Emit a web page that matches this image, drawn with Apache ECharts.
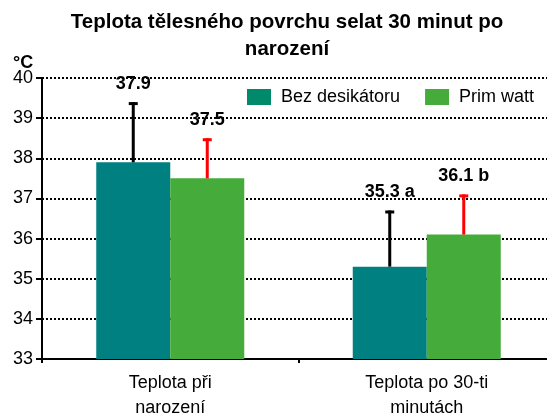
<!DOCTYPE html>
<html>
<head>
<meta charset="utf-8">
<script src="https://cdn.jsdelivr.net/npm/echarts@6/dist/echarts.min.js"></script>
<style>html,body{margin:0;padding:0;background:#fff}#c{width:547px;height:415px}</style>
</head>
<body>
<div id="c"></div>
<script>
const categories = ['Teplota při\nnarození', 'Teplota po 30-ti\nminutách'];
const seriesNames = ['Bez desikátoru', 'Prim watt'];
const bezValues = [37.9, 35.3];
const primValues = [37.5, 36.1];
const bezErrors = [1.5, 1.4];
const primErrors = [1.0, 1.0];
const bezLabels = ['37.9', '35.3 a'];
const primLabels = ['37.5', '36.1 b'];
const yMin = 33, yMax = 40, yStep = 1;
const titleText = 'Teplota tělesného povrchu selat 30 minut po\nnarození';
const unitText = '°C';

const FONT = '"Liberation Sans", Arial, sans-serif';
const BAR_W = 74;
const TEAL = '#008080', GREEN = '#45AB3A';

function errSeries(values, errors, labels, color, side) {
  return {
    type: 'custom',
    z: 5,
    silent: true,
    clip: false,
    data: values.map((v, i) => [i, v, v + errors[i]]),
    encode: { x: 0, y: [1, 2] },
    renderItem: function (params, api) {
      const i = api.value(0);
      const base = api.coord([i, api.value(1)]);
      const top = api.coord([i, api.value(2)]);
      const x = base[0] + side * BAR_W / 2;
      return {
        type: 'group',
        children: [
          { type: 'line', shape: { x1: x, y1: base[1], x2: x, y2: top[1] }, style: { stroke: color, lineWidth: 3 } },
          { type: 'line', shape: { x1: x - 4.5, y1: top[1] + 1.5, x2: x + 4.5, y2: top[1] + 1.5 }, style: { stroke: color, lineWidth: 3 } },
          { type: 'text', x: x, y: top[1] - 9, style: { text: labels[params.dataIndex], font: 'bold 18px ' + FONT, fill: '#000', align: 'center', verticalAlign: 'bottom' } }
        ]
      };
    }
  };
}

const chart = echarts.init(document.getElementById('c'), null, { renderer: 'canvas' });
chart.setOption({
  animation: false,
  backgroundColor: '#fff',
  graphic: [
    { type: 'text', x: 287, y: 9, style: { text: titleText, font: 'bold 20.5px ' + FONT, fill: '#000', align: 'center', verticalAlign: 'top', lineHeight: 27 } },
    { type: 'text', x: 13, y: 54, style: { text: unitText, font: 'bold 18px ' + FONT, fill: '#000' } }
  ],
  legend: {
    left: 247, top: 88, padding: 0,
    itemWidth: 24, itemHeight: 16, itemGap: 25,
    icon: 'rect',
    textStyle: { fontFamily: FONT, fontSize: 18, color: '#000', padding: [0, 0, 0, 5] },
    data: [
      { name: seriesNames[0], itemStyle: { color: '#008A6B' } },
      { name: seriesNames[1], itemStyle: { color: GREEN } }
    ]
  },
  grid: { left: 42, top: 78, width: 513, height: 281, containLabel: false, outerBoundsMode: 'none' },
  xAxis: {
    type: 'category',
    data: categories,
    boundaryGap: true,
    axisLine: { show: true, lineStyle: { color: '#000', width: 2 } },
    axisTick: { show: true, length: 4, lineStyle: { color: '#000', width: 2 } },
    axisLabel: { fontFamily: FONT, fontSize: 18, color: '#000', lineHeight: 25, margin: 12, interval: 0 },
    splitLine: { show: false }
  },
  yAxis: {
    type: 'value',
    min: yMin, max: yMax, interval: yStep,
    axisLine: { show: true, lineStyle: { color: '#000', width: 2 } },
    axisTick: { show: true, inside: false, length: 6, lineStyle: { color: '#000', width: 2 } },
    axisLabel: { fontFamily: FONT, fontSize: 18, color: '#000', margin: 9 },
    splitLine: { show: true, lineStyle: { color: '#000', width: 2, type: [2, 2] } }
  },
  series: [
    { name: seriesNames[0], type: 'bar', data: bezValues, barWidth: BAR_W, barGap: '0%', itemStyle: { color: TEAL } },
    { name: seriesNames[1], type: 'bar', data: primValues, barWidth: BAR_W, barGap: '0%', itemStyle: { color: GREEN } },
    errSeries(bezValues, bezErrors, bezLabels, '#000', -1),
    errSeries(primValues, primErrors, primLabels, '#FF0000', 1)
  ]
});
</script>
</body>
</html>
